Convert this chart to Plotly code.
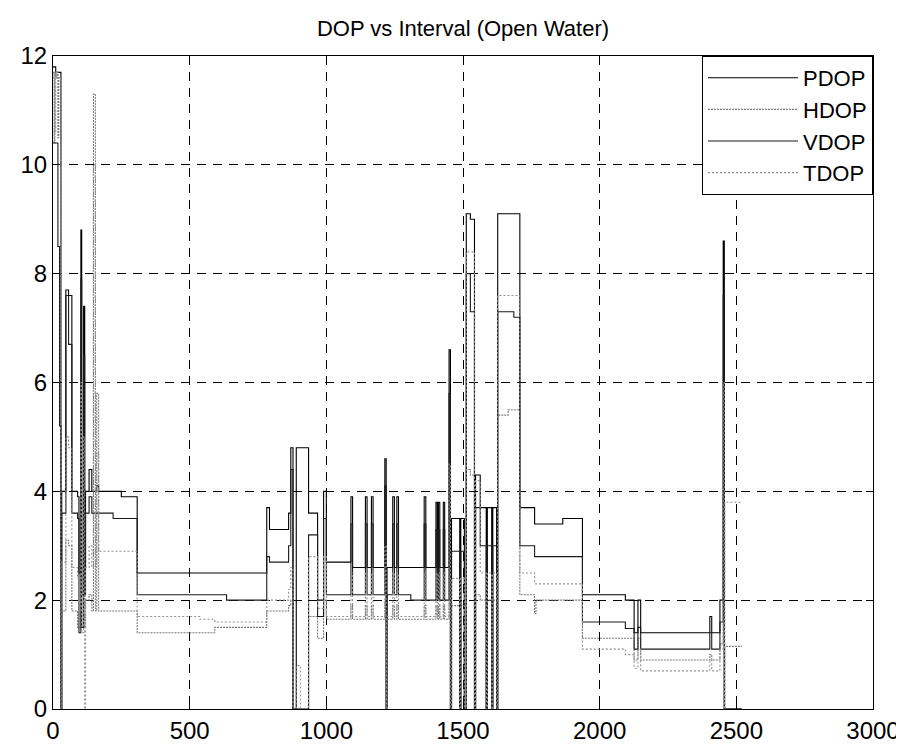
import plotly.graph_objects as go

interval = [0, 4, 7, 10, 14, 18, 21, 24, 29, 32, 47, 57, 69, 90, 95,
            102, 105, 112, 116, 119, 132, 142, 148, 155, 160,
            167, 220, 250, 308, 537, 592, 635, 782, 792, 862,
            870, 878, 890, 905, 935, 968, 990, 1000, 1090, 1096,
            1143, 1149, 1165, 1171, 1214, 1219, 1222, 1243, 1249, 1258,
            1264, 1309, 1358, 1364, 1401, 1406, 1410, 1415, 1428, 1433,
            1449, 1454, 1458, 1488, 1492, 1505, 1512, 1527, 1542, 1546,
            1563, 1585, 1589, 1605, 1609, 1623, 1627, 1665, 1686, 1708,
            1762, 1767, 1865, 1937, 2094, 2126, 2140, 2150, 2403, 2410,
            2440, 2452, 2456, 2458, 2520]

pdop = [11.8, 11.8, 11.8, 11.7, 11.7, 11.7, 11.7, 11.7, 0, 4.0, 7.7, 7.6, 4.0, 3.9, 2.5,
        8.8, 2.1, 7.4, 2.6, 4.0, 4.4, 4.0, 4.0, 4.0, 4.1,
        4.0, 4.0, 3.9, 2.5, 2.5, 2.5, 2.5, 3.7, 3.3, 3.6,
        4.8, 0, 4.8, 4.8, 3.6, 2.0, 4.0, 2.7, 3.9, 2.6,
        3.9, 2.6, 3.9, 2.6, 4.6, 0, 2.6, 3.9, 2.6, 3.9,
        2.6, 2.6, 3.9, 2.6, 3.8, 2.6, 3.8, 2.6, 3.8, 2.6,
        6.6, 0, 3.5, 0, 3.5, 0, 9.1, 9.0, 0, 4.3,
        3.7, 0, 3.7, 0, 3.7, 0, 9.1, 9.1, 9.1, 3.7,
        3.4, 3.4, 3.5, 2.1, 2.0, 1.4, 2.0, 1.4, 1.7, 1.4,
        2.0, 8.6, 0, 0, 0]

hdop = [11.7, 10.4, 11.7, 11.6, 11.7, 10.5, 11.6, 11.6, 0, 1.8, 3.1, 3.0, 1.8, 1.5, 1.5,
        3.8, 1.5, 3.5, 1.5, 2.0, 2.1, 1.8, 11.3, 1.8, 5.8,
        1.8, 1.8, 1.8, 1.4, 1.4, 1.5, 1.5, 1.8, 1.8, 1.9,
        2.0, 0, 0, 0, 1.7, 1.3, 2.0, 1.65, 1.9, 1.65,
        1.9, 1.65, 1.9, 1.65, 2.0, 0, 1.65, 1.9, 1.65, 1.9,
        1.65, 1.65, 1.9, 1.65, 1.9, 1.65, 1.9, 1.65, 1.9, 1.65,
        3.0, 0, 1.9, 0, 1.9, 0, 4.4, 4.3, 0, 2.1,
        2.0, 0, 2.0, 0, 2.0, 0, 5.4, 5.5, 5.5, 2.1,
        1.75, 2.0, 2.0, 1.3, 1.3, 0.9, 1.3, 0.9, 1.0, 0.9,
        1.2, 4.0, 0, 1.15, 1.15]

vdop = [10.4, 10.4, 10.4, 10.4, 10.4, 8.5, 8.5, 5.2, 0, 3.6, 7.6, 6.7, 3.6, 3.5, 1.4,
        7.9, 1.5, 6.5, 2.1, 3.6, 3.9, 3.6, 3.6, 3.6, 3.6,
        3.6, 3.5, 3.5, 2.1, 2.1, 2.1, 2.0, 2.8, 2.7, 3.0,
        4.4, 0, 0, 0, 3.2, 1.7, 3.5, 2.1, 3.4, 2.1,
        3.4, 2.1, 3.4, 2.1, 4.1, 0, 2.1, 3.4, 2.1, 3.4,
        2.1, 2.0, 3.4, 2.0, 3.3, 2.0, 3.3, 2.0, 3.3, 2.0,
        5.8, 0, 2.9, 0, 2.9, 0, 8.0, 7.3, 0, 3.7,
        3.0, 0, 3.0, 0, 3.0, 0, 7.3, 7.3, 7.2, 3.0,
        2.8, 2.8, 2.8, 1.6, 1.48, 1.1, 1.5, 1.1, 1.4, 1.1,
        1.6, 7.6, 0, 0, 0]

tdop = [11.6, 11.7, 10.6, 11.7, 11.7, 11.6, 11.6, 11.6, 0, 2.7, 5.0, 4.8, 2.6, 2.4, 1.8,
        6.0, 1.4, 5.0, 0, 2.6, 3.0, 2.6, 10.0, 2.6, 4.7,
        2.9, 2.9, 2.9, 1.7, 1.65, 1.6, 1.6, 2.0, 2.0, 2.2,
        2.6, 0, 0.8, 0, 2.8, 1.85, 2.8, 1.7, 2.5, 1.7,
        2.5, 1.7, 2.5, 1.7, 3.0, 0, 1.7, 2.5, 1.7, 2.5,
        1.7, 1.7, 2.5, 1.7, 2.5, 1.7, 2.5, 1.7, 2.5, 1.7,
        4.5, 0, 2.4, 0, 2.4, 0, 8.4, 8.4, 0, 4.2,
        2.5, 0, 2.5, 0, 2.5, 0, 7.6, 7.6, 7.6, 2.5,
        2.3, 2.3, 2.3, 1.1, 1.0, 0.75, 1.1, 0.7, 0.9, 0.7,
        1.1, 6.0, 0, 3.8, 3.8]

series_names = ["PDOP", "HDOP", "VDOP", "TDOP"]
series_values = [pdop, hdop, vdop, tdop]
series_colors = ["#000000", "#7a7a7a", "#1a1a1a", "#909090"]
series_dash = ["solid", "2px,1px", "solid", "2px,2px"]

for vals in series_values:
    assert len(vals) == len(interval)

fig = go.Figure()
for name, vals, col, dash in zip(series_names, series_values, series_colors, series_dash):
    fig.add_trace(go.Scatter(
        x=interval, y=vals, name=name, mode="lines",
        line=dict(color=col, width=1.1, dash=dash, shape="hv"),
    ))

font_family = "Liberation Sans, Arial, Helvetica, sans-serif"

axis_common = dict(
    showline=True, linecolor="black", linewidth=1, mirror="ticks",
    ticks="inside", ticklen=7, tickcolor="black", tickwidth=1,
    showgrid=True, gridcolor="black", gridwidth=1, griddash="9px,7px",
    zeroline=False, tickfont=dict(family=font_family, size=24, color="black"),
)

fig.update_xaxes(range=[0, 3000], tickvals=[0, 500, 1000, 1500, 2000, 2500, 3000], **axis_common)
fig.update_yaxes(range=[0, 12], tickvals=[0, 2, 4, 6, 8, 10, 12], **axis_common)

fig.update_layout(
    width=904, height=748,
    margin=dict(l=45, r=34, t=48, b=44),
    paper_bgcolor="white", plot_bgcolor="white",
    title=dict(text="DOP vs Interval (Open Water)", x=0.5, xref="paper",
               y=1 - 20 / 748, yref="container", yanchor="middle", xanchor="center",
               font=dict(family=font_family, size=22, color="black")),
    legend=dict(x=1, y=1, xanchor="right", yanchor="top",
                bgcolor="white", bordercolor="black", borderwidth=1,
                font=dict(family=font_family, size=22, color="black"),
                itemwidth=90, tracegroupgap=0),
    showlegend=True,
)

fig.write_html("out.html")
